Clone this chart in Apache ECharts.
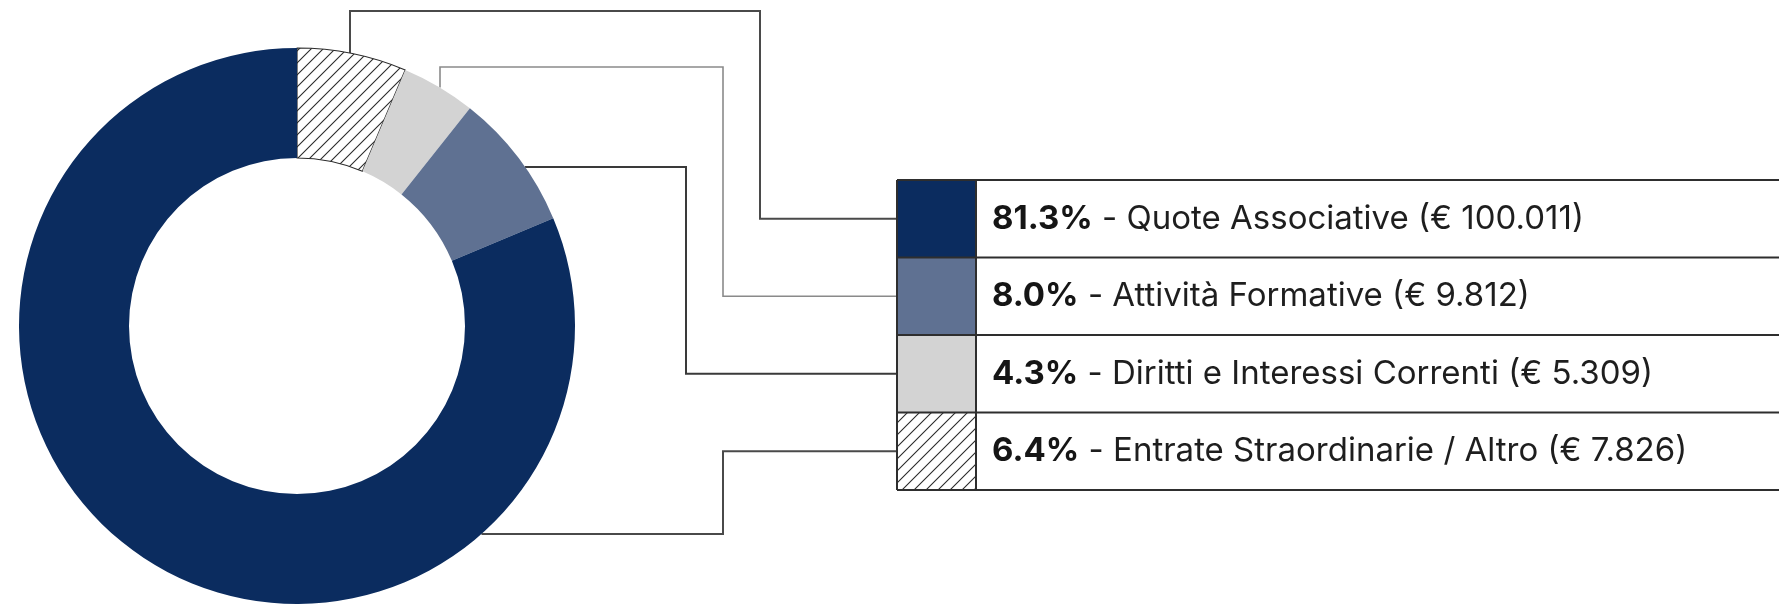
<!DOCTYPE html>
<html>
<head>
<meta charset="utf-8">
<script src="https://cdn.jsdelivr.net/npm/echarts@6/dist/echarts.min.js"></script>
<style>
html,body{margin:0;padding:0;background:#fff;}
#chart{width:1780px;height:606px;}
</style>
</head>
<body>
<div id="chart"></div>
<script>
// ---- data (legend order) ----
const categories = ['Quote Associative', 'Attività Formative', 'Diritti e Interessi Correnti', 'Entrate Straordinarie / Altro'];
const amounts = [100011, 9812, 5309, 7826];
const percentLabels = ['81.3%', '8.0%', '4.3%', '6.4%'];
// order of slices clockwise from 12 o'clock
const pieOrder = [3, 2, 1, 0];

// ---- styling ----
const COLORS = ['#0b2c5f', '#5f7192', '#d3d3d3', null];
const CX = 297, CY = 326, R_IN = 168, R_OUT = 278;
const TABLE_X = 897, SWATCH_W = 79, TABLE_Y = 180, ROW_H = 77.5, TABLE_RIGHT = 1779;
const TEXT_X = 992;
const FONT_SIZE = 33;

function hatchCanvas() {
  const s = 12;
  const c = document.createElement('canvas');
  c.width = s; c.height = s;
  const g = c.getContext('2d');
  g.fillStyle = '#ffffff';
  g.fillRect(0, 0, s, s);
  g.strokeStyle = '#2b2b2b';
  g.lineWidth = 1.1;
  g.beginPath();
  g.moveTo(0, s); g.lineTo(s, 0);
  g.moveTo(-s / 2, s / 2); g.lineTo(s / 2, -s / 2);
  g.moveTo(s / 2, s * 1.5); g.lineTo(s * 1.5, s / 2);
  g.stroke();
  return c;
}
const hatch = { image: hatchCanvas(), repeat: 'repeat' };
function colorOf(i) { return COLORS[i] === null ? hatch : COLORS[i]; }

function fmtEuro(v) {
  return String(v).replace(/\B(?=(\d{3})+(?!\d))/g, '.');
}

const pieData = pieOrder.map(i => ({
  name: categories[i],
  value: amounts[i],
  itemStyle: COLORS[i] === null
    ? { color: hatch, borderColor: '#2b2b2b', borderWidth: 1.2 }
    : { color: COLORS[i], borderWidth: 0 }
}));

// ---- connector lines (start points lie on the donut outer edge) ----
function arcY(x, top) { const dx = x - CX; const d = Math.sqrt(R_OUT * R_OUT - dx * dx); return top ? CY - d : CY + d; }
function arcX(y) { const dy = y - CY; return CX + Math.sqrt(R_OUT * R_OUT - dy * dy); }
function rowMid(i) { return TABLE_Y + ROW_H * (i + 0.5); }

const connectors = [
  { pts: [[350, arcY(350, true)], [350, 11], [760, 11], [760, rowMid(0)], [TABLE_X, rowMid(0)]], color: '#4a4a4a', w: 2 },
  { pts: [[440, arcY(440, true)], [440, 67], [723, 67], [723, rowMid(1)], [TABLE_X, rowMid(1)]], color: '#8a8a8a', w: 1.6 },
  { pts: [[arcX(167), 167], [686, 167], [686, rowMid(2)], [TABLE_X, rowMid(2)]], color: '#3a3a3a', w: 2 },
  { pts: [[arcX(534), 534], [723, 534], [723, rowMid(3)], [TABLE_X, rowMid(3)]], color: '#4a4a4a', w: 2 }
];

const graphics = [];
connectors.forEach(c => {
  graphics.push({ type: 'polyline', silent: true, shape: { points: c.pts }, style: { stroke: c.color, lineWidth: c.w, fill: null } });
});

// table
categories.forEach((name, i) => {
  const y = TABLE_Y + ROW_H * i;
  graphics.push({ type: 'rect', silent: true, shape: { x: TABLE_X, y: y, width: SWATCH_W, height: ROW_H }, style: { fill: colorOf(i), stroke: null } });
  graphics.push({
    type: 'text', silent: true, x: TEXT_X, y: y + ROW_H / 2,
    style: {
      text: '{b|' + percentLabels[i] + '}{n| - ' + name + ' (€ ' + fmtEuro(amounts[i]) + ')}',
      verticalAlign: 'middle', align: 'left',
      rich: {
        b: { fontFamily: 'Inter', fontSize: FONT_SIZE, fontWeight: 700, fill: '#151515' },
        n: { fontFamily: 'Inter', fontSize: FONT_SIZE, fontWeight: 400, fill: '#1e1e1e' }
      }
    }
  });
});
// table grid lines
const lineStyle = { stroke: '#2e2e2e', lineWidth: 2 };
for (let i = 0; i <= categories.length; i++) {
  const y = TABLE_Y + ROW_H * i;
  graphics.push({ type: 'line', silent: true, shape: { x1: TABLE_X, y1: y, x2: TABLE_RIGHT, y2: y }, style: lineStyle });
}
graphics.push({ type: 'line', silent: true, shape: { x1: TABLE_X, y1: TABLE_Y, x2: TABLE_X, y2: TABLE_Y + ROW_H * 4 }, style: lineStyle });
graphics.push({ type: 'line', silent: true, shape: { x1: TABLE_X + SWATCH_W, y1: TABLE_Y, x2: TABLE_X + SWATCH_W, y2: TABLE_Y + ROW_H * 4 }, style: lineStyle });

const chart = echarts.init(document.getElementById('chart'), null, { renderer: 'canvas' });
chart.setOption({
  backgroundColor: '#ffffff',
  animation: false,
  series: [{
    type: 'pie',
    center: [CX, CY],
    radius: [R_IN, R_OUT],
    startAngle: 90,
    clockwise: true,
    silent: true,
    label: { show: false },
    labelLine: { show: false },
    emphasis: { disabled: true },
    data: pieData
  }],
  graphic: graphics
});
</script>
</body>
</html>
